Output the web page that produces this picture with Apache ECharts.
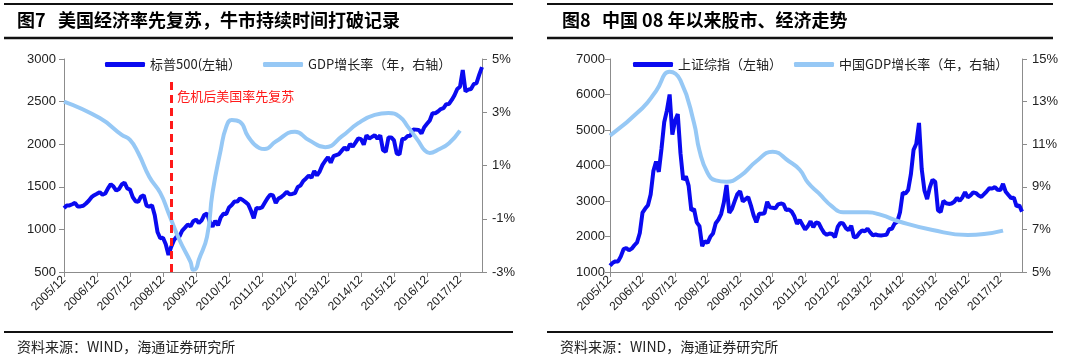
<!DOCTYPE html>
<html><head><meta charset="utf-8">
<script src="https://cdn.jsdelivr.net/npm/echarts@6/dist/echarts.min.js"></script>
<style>html,body{margin:0;padding:0;background:#fff}#c{width:1080px;height:362px}</style>
</head><body><div id="c"></div>
<script>
// ---------- categories (monthly, 2005/12 .. 2018/08) ----------
const months = [];
for (let i = 0; i < 153; i++) {
  const t = 2005 * 12 + 11 + i;
  const y = Math.floor(t / 12), m = t % 12 + 1;
  months.push(y + '/' + (m < 10 ? '0' + m : m));
}
const xTickLabels = ['2005/12','2006/12','2007/12','2008/12','2009/12','2010/12','2011/12','2012/12','2013/12','2014/12','2015/12','2016/12','2017/12'];

// ---------- Fig 7: S&P 500 (monthly) ----------
const spx = [
  1250,
  1280,1281,1295,1311,1270,1270,1277,1304,1336,1378,1401,1418,
  1438,1407,1421,1482,1531,1503,1455,1474,1527,1549,1481,1468,
  1379,1331,1323,1386,1400,1280,1267,1283,1166,969,896,903,
  826,700,797,873,919,919,987,1021,1057,1036,1096,1115,
  1074,1104,1169,1187,1089,1031,1102,1049,1141,1183,1181,1258,
  1286,1327,1326,1364,1345,1321,1292,1219,1131,1253,1247,1258,
  1312,1366,1408,1398,1310,1362,1379,1407,1441,1412,1416,1426,
  1498,1515,1569,1598,1631,1606,1686,1633,1682,1757,1806,1848,
  1783,1859,1872,1884,1924,1960,1931,2003,1972,2018,2068,2059,
  1995,2105,2068,2086,2107,2063,2104,1930,1910,2079,2080,2044,
  1890,1880,2060,2065,2097,2099,2174,2171,2168,2126,2199,2239,
  2279,2364,2363,2384,2412,2423,2470,2472,2519,2575,2648,2674,
  2870,2620,2641,2648,2705,2718,2816,2905
];
// US GDP growth (%, right axis)
const usGdpMonths = ['2005/12','2007/01','2007/09','2007/12','2008/03','2008/07','2008/11','2009/02','2009/06','2009/10','2009/11','2009/12','2010/01','2010/04','2010/06','2010/09','2010/11','2011/01','2011/04','2011/07','2011/11','2012/01','2012/05','2012/12','2013/05','2013/11','2014/05','2014/11','2015/05','2015/10','2016/02','2016/05','2016/09','2016/11','2017/01','2017/04','2017/08','2017/12'];
const usGdpValues = [3.40,2.78,2.15,1.96,1.47,0.58,-0.03,-0.78,-1.80,-2.62,-2.92,-2.88,-2.55,-1.68,-0.03,1.59,2.45,2.71,2.64,2.08,1.66,1.62,1.90,2.27,1.96,1.69,2.09,2.59,2.90,2.97,2.84,2.46,1.90,1.59,1.47,1.59,1.84,2.31];
const crisisMonth = '2009/03';
const crisisTop = 2730;
const crisisLabelValue = 2565;
const crisisText = '危机后美国率先复苏';

// ---------- Fig 8: Shanghai Composite ----------
const shcomp = [
  1180,
  1258,1299,1298,1440,1642,1672,1612,1658,1753,1837,2099,2675,
  2786,2881,3183,3841,4109,3820,4471,5218,5552,6000,4871,5262,
  5450,4348,3600,3693,3433,2736,2775,2397,2293,1729,1871,1821,
  1991,2082,2373,2477,2633,2959,3450,2667,2779,2996,3195,3277,
  2989,3051,3110,2870,2592,2398,2638,2639,2656,2979,2820,2808,
  2791,2905,2928,2911,2743,2762,2701,2568,2359,2468,2333,2199,
  2292,2428,2263,2396,2373,2225,2103,2047,2086,2069,1980,2269,
  2385,2366,2237,2178,2301,1979,1994,2098,2175,2142,2220,2116,
  2033,2056,2033,2026,2039,2048,2202,2217,2364,2420,2683,3235,
  3210,3310,3748,4442,4612,5200,3900,3300,3053,3383,3600,3539,
  2738,2688,3004,2938,2917,2930,2979,3085,3005,3100,3250,3104,
  3159,3242,3223,3155,3117,3192,3273,3361,3349,3393,3317,3307,
  3481,3259,3169,3082,3095,2847,2876,2700
];
const cnGdpMonths = ['2005/12','2006/12','2007/05','2007/10','2008/02','2008/07','2008/09','2008/12','2009/03','2009/07','2009/12','2010/06','2010/12','2011/06','2011/10','2012/01','2012/05','2012/10','2013/02','2013/11','2014/04','2014/11','2015/11','2016/12','2017/06','2018/01'];
const cnGdpValues = [11.4,12.7,13.5,14.4,14.0,12.0,10.7,9.65,9.3,9.24,9.5,10.2,10.65,10.2,9.8,9.2,8.7,8.07,7.8,7.8,7.68,7.36,6.97,6.74,6.78,6.94];

// ---------- text ----------
const title7a = '图7', title7b = '美国经济率先复苏，牛市持续时间打破记录';
const title8a = '图8', title8b = '中国 08 年以来股市、经济走势';
const sourceText = '资料来源：WIND，海通证券研究所';
const spxName = '标普500(左轴）', usGdpName = 'GDP增长率（年，右轴）';
const shName = '上证综指（左轴）', cnGdpName = '中国GDP增长率（年，右轴）';

// ---------- styles ----------
const fontNum = "'Liberation Sans', Arial, 'Noto Sans CJK SC', sans-serif";
const fontCJK = "'Noto Sans CJK SC', sans-serif";
const dark = '#0a0af0', light = '#96c8f5', axisGray = '#8c8c8c', txt = '#222';

function pairs(ms, vs) { return ms.map((m, i) => [m, vs[i]]); }

function xAxis(gi) {
  return {
    type: 'category', gridIndex: gi, data: months, boundaryGap: false,
    axisLine: { onZero: false, lineStyle: { color: axisGray, width: 1 } },
    axisTick: { length: 5, interval: (i, v) => xTickLabels.includes(v), lineStyle: { color: axisGray } },
    axisLabel: { rotate: 45, margin: 6, interval: (i, v) => xTickLabels.includes(v), color: txt, fontSize: 12, fontFamily: fontNum },
    splitLine: { show: false }
  };
}
function yAxis(gi, pos, min, max, interval, pct, margin) {
  return {
    type: 'value', gridIndex: gi, position: pos, min, max, interval,
    axisLine: { show: true, onZero: false, lineStyle: { color: axisGray, width: 1 } },
    axisTick: { show: true, length: 5, lineStyle: { color: axisGray } },
    axisLabel: { margin, color: txt, fontSize: 13, fontFamily: fontNum,
      formatter: v => pct ? String(v) + '%' : String(v) },
    splitLine: { show: false }
  };
}
function hline(x1, x2, y, w) {
  return { type: 'line', shape: { x1, y1: y, x2, y2: y }, style: { stroke: '#111', lineWidth: w }, silent: true };
}
function text(x, y, t, font, fill) {
  return { type: 'text', left: x, top: y, style: { text: t, font, fill: fill || '#000' }, silent: true };
}

const chart = echarts.init(document.getElementById('c'));
chart.setOption({
  animation: false,
  backgroundColor: '#fff',
  grid: [
    { left: 64, right: 598, top: 59, bottom: 90 },
    { left: 610, right: 58, top: 59, bottom: 90 }
  ],
  legend: [
    { data: [spxName, usGdpName], left: 100, top: 53, itemGap: 22, itemWidth: 40, itemHeight: 5, icon: 'roundRect',
      textStyle: { fontSize: 13, color: txt, fontFamily: fontCJK } },
    { data: [shName, cnGdpName], left: 628, top: 53, itemGap: 12, itemWidth: 40, itemHeight: 5, icon: 'roundRect',
      textStyle: { fontSize: 13, color: txt, fontFamily: fontCJK } }
  ],
  xAxis: [xAxis(0), xAxis(1)],
  yAxis: [
    yAxis(0, 'left', 500, 3000, 500, false, 8),
    yAxis(0, 'right', -3, 5, 2, true, 10),
    yAxis(1, 'left', 1000, 7000, 1000, false, 5),
    yAxis(1, 'right', 5, 15, 2, true, 10)
  ],
  series: [
    { type: 'line', name: spxName, xAxisIndex: 0, yAxisIndex: 0, data: spx, showSymbol: false,
      lineStyle: { width: 4, color: dark }, itemStyle: { color: dark },
      markLine: { silent: true, symbol: ['none', 'none'], animation: false,
        lineStyle: { color: '#ff1a1a', width: 3, type: [8, 5] }, label: { show: false },
        data: [[{ coord: [crisisMonth, crisisTop] }, { coord: [crisisMonth, 500] }]] },
      markPoint: { silent: true, symbol: 'circle', symbolSize: 0, animation: false,
        data: [{ coord: [crisisMonth, crisisLabelValue] }],
        label: { show: true, position: 'right', distance: 6, formatter: crisisText, color: '#ff1a1a', fontSize: 13, fontFamily: fontCJK } } },
    { type: 'line', name: usGdpName, xAxisIndex: 0, yAxisIndex: 1, data: pairs(usGdpMonths, usGdpValues), smooth: true, showSymbol: false,
      lineStyle: { width: 4, color: light }, itemStyle: { color: light } },
    { type: 'line', name: shName, xAxisIndex: 1, yAxisIndex: 2, data: shcomp, showSymbol: false,
      lineStyle: { width: 4, color: dark }, itemStyle: { color: dark } },
    { type: 'line', name: cnGdpName, xAxisIndex: 1, yAxisIndex: 3, data: pairs(cnGdpMonths, cnGdpValues), smooth: true, showSymbol: false,
      lineStyle: { width: 4, color: light }, itemStyle: { color: light } }
  ],
  graphic: [
    hline(4, 513, 4, 2), hline(4, 513, 38, 2.5), hline(4, 513, 332, 2),
    hline(547, 1053, 4, 2), hline(547, 1053, 38, 2.5), hline(547, 1053, 332, 2),
    text(17, 11, title7a, "bold 18px 'Noto Sans CJK SC'"),
    text(58, 11, title7b, "bold 18px 'Noto Sans CJK SC'"),
    text(562, 11, title8a, "bold 18px 'Noto Sans CJK SC'"),
    text(602, 11, title8b, "bold 18px 'Noto Sans CJK SC'"),
    text(17, 340, sourceText, "14px 'Noto Sans CJK SC'", '#222'),
    text(560, 340, sourceText, "14px 'Noto Sans CJK SC'", '#222')
  ]
});
</script></body></html>
